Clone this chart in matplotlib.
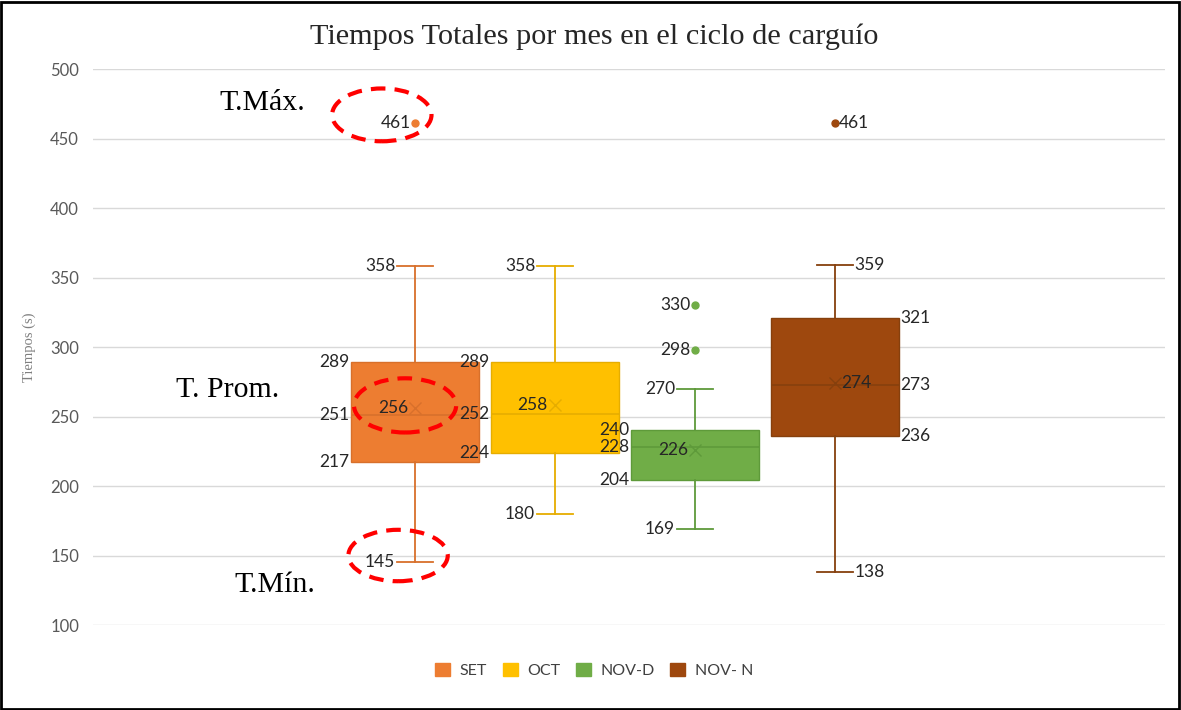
import matplotlib.pyplot as plt
from matplotlib.patches import Patch, Ellipse, Rectangle

# data
series = ["SET", "OCT", "NOV-D", "NOV- N"]
colors = ["#ED7D31", "#FFC000", "#70AD47", "#9E480E"]
edge_colors = ["#D8702B", "#E6AD00", "#5E9A3A", "#86400D"]
whisk_lo = [145, 180, 169, 138]
q1 = [217, 224, 204, 236]
median = [251, 252, 228, 273]
q3 = [289, 289, 240, 321]
whisk_hi = [358, 358, 270, 359]
means = [256, 258, 226, 274]
outliers = [[461], [], [298, 330], [461]]
label_side = ["left", "left", "left", "right"]

yticks = [100, 150, 200, 250, 300, 350, 400, 450, 500]

plt.rcParams.update({'font.family': ['Lato', 'DejaVu Sans']})

fig = plt.figure(figsize=(11.81, 7.10), dpi=100)
ax = fig.add_axes([0.0787, 0.1197, 0.9078, 0.7831])

positions = [0, 1, 2, 3]
box_w = 0.914
cap_w = 0.26

for i in range(len(series)):
    st = [dict(med=median[i], q1=q1[i], q3=q3[i], whislo=whisk_lo[i], whishi=whisk_hi[i],
               mean=means[i], fliers=outliers[i], label=series[i])]
    ax.bxp(st, positions=[positions[i]], widths=box_w, capwidths=cap_w, patch_artist=True,
           showmeans=True,
           boxprops=dict(facecolor=colors[i], edgecolor=edge_colors[i], linewidth=1),
           whiskerprops=dict(color=edge_colors[i], linewidth=1.3),
           capprops=dict(color=edge_colors[i], linewidth=1.3),
           medianprops=dict(color=edge_colors[i], linewidth=1.2),
           meanprops=dict(marker='x', markeredgecolor=edge_colors[i], markersize=8, markeredgewidth=1),
           flierprops=dict(marker='o', markerfacecolor=colors[i], markeredgecolor=colors[i], markersize=5),
           zorder=3)

# data labels
lab_kw = dict(fontsize=12.5, color='#262626', va='center', textcoords='offset points', zorder=5)
for i, p in enumerate(positions):
    sgn = -1 if label_side[i] == "left" else 1
    ha = 'right' if sgn < 0 else 'left'
    for v in (q1[i], median[i], q3[i]):
        ax.annotate(str(v), (p + sgn * box_w / 2, v), xytext=(sgn * 1, 0), ha=ha, **lab_kw)
    for v in (whisk_lo[i], whisk_hi[i]):
        ax.annotate(str(v), (p + sgn * cap_w / 2, v), xytext=(sgn * 1, 0), ha=ha, **lab_kw)
    ax.annotate(str(means[i]), (p, means[i]), xytext=(sgn * 5, 0), ha=ha, **lab_kw)
    for v in outliers[i]:
        ax.annotate(str(v), (p, v), xytext=(sgn * 3, 0), ha=ha, **lab_kw)

ax.set_xlim(-2.30, 5.36)
ax.set_ylim(100, 500)
ax.set_yticks(yticks)
ax.set_xticks([])
ax.grid(axis='y', color='#D9D9D9', linewidth=1)
ax.set_axisbelow(True)
for s in ax.spines.values():
    s.set_visible(False)
ax.tick_params(axis='y', length=0, pad=10, labelsize=12, labelcolor='#595959')

ax.set_ylabel("Tiempos (s)", family='Liberation Serif', fontsize=10.5, color='#7F7F7F', labelpad=10)
fig.text(0.503, 0.948, "Tiempos Totales por mes en el ciclo de carguío", family='Liberation Serif',
         fontsize=21.8, color='#262626', ha='center', va='center')

# annotations in the figure
ann = dict(family='Liberation Serif', fontsize=21.5, color='black', ha='center', va='center')
ax.text(-1.093, 475.5, "T.Máx.", **ann)
ax.text(-1.336, 269, "T. Prom.", **ann)
ax.text(-1.0, 129, "T.Mín.", **ann)

ell_kw = dict(fill=False, edgecolor='#FF0000', linewidth=3, linestyle=(0, (3.5, 2.2)), zorder=6)
ax.add_patch(Ellipse((positions[0] - 0.236, 467), 0.71, 38, **ell_kw))
ax.add_patch(Ellipse((positions[0] - 0.07, 258), 0.73, 39, **ell_kw))
ax.add_patch(Ellipse((positions[0] - 0.12, 150), 0.71, 37, **ell_kw))

handles = [Patch(facecolor=c, edgecolor=c) for c in colors]
fig.legend(handles, series, loc='center', bbox_to_anchor=(0.503, 0.056), ncol=4, frameon=False,
           handlelength=0.95, handleheight=0.95, columnspacing=0.95, handletextpad=0.6,
           prop=dict(size=11.5), labelcolor='#404040')

fig.patches.append(Rectangle((0.001, 0.002), 0.997, 0.995, transform=fig.transFigure,
                             fill=False, edgecolor='black', linewidth=2))

plt.savefig('out.png', dpi=100)
